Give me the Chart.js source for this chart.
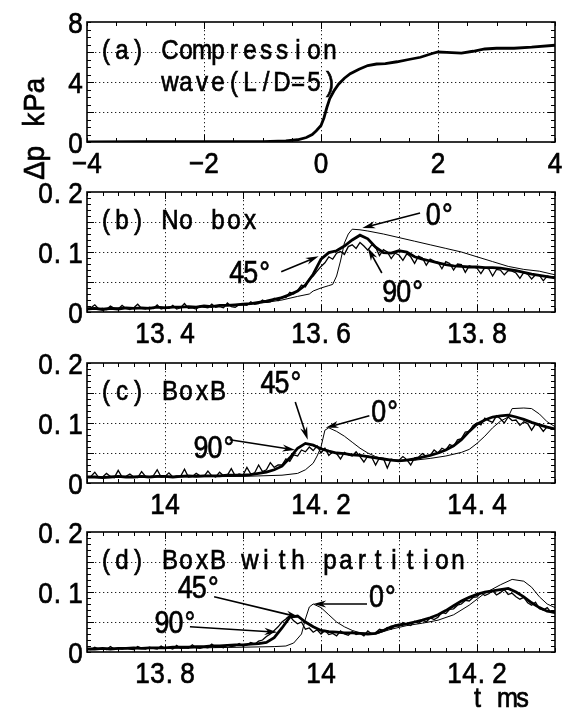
<!DOCTYPE html>
<html>
<head>
<meta charset="utf-8">
<script src="https://cdn.jsdelivr.net/npm/chart.js@4.4.0/dist/chart.umd.min.js"></script>
<style>
  html, body { margin: 0; padding: 0; background: #fff; }
  #wrap { position: relative; width: 564px; height: 710px; }
  #wrap canvas { position: absolute; left: 0; top: 0; }
</style>
</head>
<body>
<div id="wrap">
  <canvas id="pa" width="564" height="710"></canvas>
  <canvas id="pb" width="564" height="710"></canvas>
  <canvas id="pc" width="564" height="710"></canvas>
  <canvas id="pd" width="564" height="710"></canvas>
</div>
<script>
// (a) compression wave, t ms / dp kPa
const WAVE_T  = [-4, -3, -2, -1, -0.6, -0.4, -0.25, -0.15, -0.08, 0, 0.05, 0.1, 0.15, 0.22, 0.3, 0.4, 0.5, 0.65, 0.8, 0.95, 1.1, 1.3, 1.5, 1.7, 1.9, 2.0, 2.15, 2.4, 2.6, 2.8, 3.0, 3.3, 3.6, 4.0];
const WAVE_DP = [0, 0.02, 0.02, 0.03, 0.07, 0.15, 0.3, 0.5, 0.75, 1.1, 1.6, 2.3, 2.9, 3.4, 3.85, 4.25, 4.55, 4.85, 5.1, 5.2, 5.22, 5.35, 5.5, 5.65, 5.9, 6.0, 5.97, 5.92, 6.05, 6.2, 6.25, 6.25, 6.32, 6.45];

// (b) no box
const B_DEG0_T = [13.30, 13.40, 13.45, 13.50, 13.53, 13.55, 13.57, 13.585, 13.59, 13.60, 13.61, 13.615, 13.62, 13.625, 13.63, 13.635, 13.64, 13.65, 13.66, 13.68, 13.70, 13.72, 13.74, 13.76, 13.78, 13.80, 13.82, 13.84, 13.86, 13.88, 13.90];
const B_DEG0_P = [0.006, 0.008, 0.009, 0.012, 0.016, 0.020, 0.026, 0.030, 0.035, 0.040, 0.044, 0.046, 0.060, 0.085, 0.115, 0.130, 0.138, 0.137, 0.135, 0.130, 0.124, 0.118, 0.112, 0.106, 0.100, 0.092, 0.084, 0.076, 0.071, 0.068, 0.062];
// sampled every 0.01 ms from 13.30
const B_DEG45_P = [0.005, 0.006, 0.004, 0.006, 0.005, 0.007, 0.006, 0.007, 0.006, 0.008,
  0.007, 0.008, 0.008, 0.009, 0.008, 0.010, 0.009, 0.011, 0.011, 0.012,
  0.013, 0.014, 0.016, 0.018, 0.021, 0.024, 0.029, 0.035, 0.045, 0.063,
  0.088, 0.099, 0.102, 0.110, 0.120, 0.128, 0.122, 0.108, 0.099, 0.098,
  0.102, 0.100, 0.092, 0.088, 0.085, 0.082, 0.079, 0.077, 0.076, 0.075,
  0.075, 0.074, 0.074, 0.073, 0.071, 0.069, 0.066, 0.063, 0.061, 0.059, 0.057];
// sampled every 0.005 ms from 13.30
const B_DEG90_P = [0.006, 0.007, 0.012, 0.005, 0.006, 0.004, 0.010, 0.006, 0.005, 0.011,
  0.006, 0.004, 0.007, 0.013, 0.006, 0.005, 0.008, 0.006, 0.012, 0.005,
  0.007, 0.006, 0.011, 0.005, 0.007, 0.014, 0.006, 0.007, 0.005, 0.010,
  0.008, 0.007, 0.013, 0.008, 0.009, 0.007, 0.015, 0.009, 0.008, 0.012,
  0.012, 0.011, 0.017, 0.013, 0.014, 0.020, 0.016, 0.017, 0.023, 0.019,
  0.025, 0.024, 0.033, 0.030, 0.036, 0.045, 0.042, 0.055, 0.060, 0.068,
  0.076, 0.082, 0.092, 0.088, 0.098, 0.101, 0.096, 0.109, 0.112, 0.106,
  0.116, 0.110, 0.103, 0.112, 0.108, 0.094, 0.104, 0.100, 0.089, 0.098,
  0.095, 0.086, 0.097, 0.092, 0.081, 0.093, 0.090, 0.078, 0.088, 0.085,
  0.083, 0.072, 0.084, 0.081, 0.070, 0.080, 0.079, 0.066, 0.077, 0.075,
  0.073, 0.064, 0.074, 0.072, 0.060, 0.071, 0.070, 0.062, 0.069, 0.068,
  0.065, 0.056, 0.066, 0.063, 0.055, 0.062, 0.061, 0.052, 0.060, 0.058, 0.057];

// (c) BoxB
const C_DEG0_T = [13.90, 14.00, 14.10, 14.15, 14.17, 14.18, 14.19, 14.195, 14.20, 14.205, 14.21, 14.22, 14.23, 14.24, 14.25, 14.26, 14.27, 14.28, 14.30, 14.32, 14.34, 14.36, 14.38, 14.39, 14.40, 14.41, 14.42, 14.43, 14.44, 14.445, 14.46, 14.47, 14.48, 14.49, 14.50];
const C_DEG0_P = [0.010, 0.010, 0.011, 0.013, 0.016, 0.022, 0.033, 0.045, 0.060, 0.088, 0.092, 0.086, 0.078, 0.068, 0.058, 0.050, 0.044, 0.040, 0.037, 0.038, 0.041, 0.045, 0.051, 0.056, 0.066, 0.078, 0.092, 0.103, 0.110, 0.124, 0.125, 0.124, 0.115, 0.102, 0.094];
const C_DEG45_P = [0.010, 0.010, 0.009, 0.010, 0.011, 0.010, 0.010, 0.011, 0.010, 0.011,
  0.011, 0.010, 0.011, 0.012, 0.011, 0.012, 0.012, 0.012, 0.013, 0.013,
  0.013, 0.014, 0.016, 0.018, 0.022, 0.028, 0.042, 0.058, 0.066, 0.063,
  0.057, 0.053, 0.050, 0.049, 0.047, 0.046, 0.044, 0.042, 0.040, 0.038,
  0.037, 0.038, 0.040, 0.043, 0.046, 0.050, 0.055, 0.062, 0.072, 0.086,
  0.098, 0.105, 0.110, 0.112, 0.113, 0.110, 0.106, 0.101, 0.097, 0.093, 0.090];
const C_DEG90_P = [0.010, 0.011, 0.018, 0.009, 0.010, 0.016, 0.011, 0.009, 0.021, 0.010,
  0.011, 0.015, 0.010, 0.009, 0.019, 0.011, 0.010, 0.012, 0.022, 0.010,
  0.011, 0.017, 0.010, 0.012, 0.011, 0.023, 0.010, 0.011, 0.016, 0.012,
  0.011, 0.020, 0.012, 0.010, 0.018, 0.012, 0.013, 0.024, 0.012, 0.015,
  0.013, 0.026, 0.015, 0.017, 0.030, 0.019, 0.022, 0.034, 0.026, 0.030,
  0.030, 0.040, 0.036, 0.047, 0.045, 0.055, 0.052, 0.060, 0.054, 0.062,
  0.050, 0.058, 0.046, 0.052, 0.049, 0.040, 0.051, 0.047, 0.045, 0.052,
  0.044, 0.035, 0.045, 0.043, 0.030, 0.042, 0.041, 0.025, 0.040, 0.038,
  0.038, 0.044, 0.039, 0.030, 0.042, 0.043, 0.049, 0.044, 0.046, 0.055,
  0.050, 0.058, 0.055, 0.064, 0.061, 0.072, 0.074, 0.085, 0.086, 0.096,
  0.100, 0.097, 0.108, 0.104, 0.101, 0.112, 0.107, 0.100, 0.110, 0.104,
  0.105, 0.096, 0.102, 0.099, 0.088, 0.098, 0.095, 0.086, 0.094, 0.090, 0.090];

// (d) BoxB with partition
const D_DEG0_T = [13.70, 13.80, 13.90, 13.94, 13.955, 13.965, 13.975, 13.98, 13.985, 13.99, 14.00, 14.01, 14.02, 14.03, 14.04, 14.05, 14.07, 14.09, 14.11, 14.13, 14.15, 14.17, 14.19, 14.21, 14.23, 14.245, 14.26, 14.27, 14.28, 14.29, 14.30];
const D_DEG0_P = [0.005, 0.006, 0.008, 0.009, 0.010, 0.015, 0.030, 0.055, 0.075, 0.080, 0.074, 0.062, 0.050, 0.042, 0.036, 0.032, 0.030, 0.038, 0.044, 0.048, 0.053, 0.062, 0.078, 0.098, 0.112, 0.121, 0.118, 0.108, 0.092, 0.080, 0.074];
const D_DEG45_P = [0.005, 0.005, 0.006, 0.005, 0.006, 0.006, 0.007, 0.006, 0.007, 0.007,
  0.007, 0.008, 0.008, 0.008, 0.009, 0.009, 0.010, 0.010, 0.011, 0.012,
  0.012, 0.013, 0.014, 0.016, 0.024, 0.040, 0.058, 0.060, 0.050, 0.042,
  0.036, 0.034, 0.033, 0.032, 0.032, 0.031, 0.030, 0.031, 0.036, 0.042,
  0.045, 0.047, 0.050, 0.053, 0.057, 0.062, 0.069, 0.077, 0.085, 0.091,
  0.096, 0.100, 0.102, 0.104, 0.106, 0.100, 0.092, 0.082, 0.074, 0.068, 0.066];
const D_DEG90_P = [0.005, 0.004, 0.008, 0.005, 0.006, 0.004, 0.009, 0.005, 0.006, 0.005,
  0.007, 0.005, 0.004, 0.009, 0.006, 0.005, 0.008, 0.006, 0.005, 0.010,
  0.006, 0.007, 0.005, 0.011, 0.006, 0.007, 0.006, 0.012, 0.007, 0.006,
  0.008, 0.007, 0.013, 0.008, 0.009, 0.007, 0.012, 0.009, 0.010, 0.014,
  0.010, 0.012, 0.016, 0.013, 0.018, 0.020, 0.026, 0.030, 0.036, 0.042,
  0.050, 0.055, 0.060, 0.052, 0.047, 0.050, 0.038, 0.040, 0.033, 0.037,
  0.030, 0.036, 0.029, 0.031, 0.027, 0.035, 0.030, 0.028, 0.034, 0.029,
  0.031, 0.027, 0.035, 0.030, 0.032, 0.038, 0.036, 0.041, 0.038, 0.045,
  0.043, 0.049, 0.046, 0.044, 0.051, 0.048, 0.053, 0.050, 0.057, 0.054,
  0.058, 0.066, 0.064, 0.071, 0.072, 0.078, 0.080, 0.086, 0.085, 0.091,
  0.092, 0.099, 0.094, 0.097, 0.102, 0.095, 0.099, 0.104, 0.096, 0.098,
  0.092, 0.088, 0.091, 0.082, 0.078, 0.083, 0.072, 0.070, 0.074, 0.066, 0.065];

// tick labels
const A_XTICKS = [-4, -2, 0, 2, 4];
const A_YTICKS = [0, 4, 8];
const P_YTICKS = [0, 0.1, 0.2];
const B_XTICKS = [13.4, 13.6, 13.8];
const C_XTICKS = [14, 14.2, 14.4];
const D_XTICKS = [13.8, 14, 14.2];

// arrow notes: label anchor (tx, ty) and arrow tail -> tip, all in data units
const B_NOTES = [
  { text: '0°',  tx: 13.735, ty: 0.145, x0: 13.727, y0: 0.165, x1: 13.653, y1: 0.140 },
  { text: '45°', tx: 13.483, ty: 0.048, x0: 13.549, y0: 0.067, x1: 13.597, y1: 0.093 },
  { text: '90°', tx: 13.679, ty: 0.017, x0: 13.678, y0: 0.065, x1: 13.660, y1: 0.107 }
];
const C_NOTES = [
  { text: '45°', tx: 14.123, ty: 0.150, x0: 14.167, y0: 0.135, x1: 14.183, y1: 0.072 },
  { text: '0°',  tx: 14.265, ty: 0.102, x0: 14.262, y0: 0.112, x1: 14.206, y1: 0.092 },
  { text: '90°', tx: 14.037, ty: 0.042, x0: 14.083, y0: 0.072, x1: 14.167, y1: 0.055 }
];
const D_NOTES = [
  { text: '45°', tx: 13.817, ty: 0.090, x0: 13.863, y0: 0.092, x1: 13.972, y1: 0.058 },
  { text: '0°',  tx: 14.062, ty: 0.075, x0: 14.059, y0: 0.080, x1: 13.990, y1: 0.080 },
  { text: '90°', tx: 13.787, ty: 0.032, x0: 13.832, y0: 0.042, x1: 13.944, y1: 0.033 }
];

const FONT = '"Liberation Sans", Arial, sans-serif';
const LEFT = 87, RIGHT = 555, W = 564, H = 710;

function pairs(ts, vs) {
  return ts.map((t, i) => ({ x: t, y: vs[i] }));
}
function sampled(t0, dt, vs) {
  return vs.map((v, i) => ({ x: +(t0 + i * dt).toFixed(4), y: v }));
}

// half-width cell text, glyphs squeezed horizontally
function cellText(ctx, str, x, y, opt) {
  const cell = opt.cell, n = str.length;
  let left = x;
  if (opt.align === 'center') left = x - n * cell / 2;
  else if (opt.align === 'right') left = x - n * cell;
  ctx.font = opt.size + 'px ' + FONT;
  ctx.textAlign = 'center';
  ctx.textBaseline = 'alphabetic';
  ctx.fillStyle = '#000';
  ctx.strokeStyle = '#000';
  ctx.lineWidth = 0.7;
  for (let i = 0; i < n; i++) {
    const ch = str[i];
    if (ch === ' ') continue;
    let cx = left + cell * (i + 0.5);
    if (ch === '.') cx = left + cell * (i + 0.3);
    ctx.save();
    ctx.translate(cx, y);
    ctx.scale(opt.sx, 1);
    ctx.fillText(ch, 0, 0);
    ctx.strokeText(ch, 0, 0);
    ctx.restore();
  }
}

const TICK_FONT = { size: 29, sx: 0.9, cell: 15 };
const TITLE_FONT = { size: 28, sx: 0.86, cell: 16 };
const NOTE_FONT = { size: 32, sx: 0.84, cell: 14 };

function fmt(v) {
  return String(v).replace('-', '\u2212');
}

function steps(min, max, step) {
  const n = Math.round((max - min) / step);
  const out = [];
  for (let i = 0; i <= n; i++) out.push(min + i * step);
  return out;
}

function arrow(ctx, x0, y0, x1, y1) {
  const a = Math.atan2(y1 - y0, x1 - x0);
  const len = 13, hw = 3.6;
  ctx.save();
  ctx.strokeStyle = '#000';
  ctx.fillStyle = '#000';
  ctx.lineWidth = 1.6;
  ctx.setLineDash([]);
  ctx.beginPath();
  ctx.moveTo(x0, y0);
  ctx.lineTo(x1 - Math.cos(a) * len * 0.6, y1 - Math.sin(a) * len * 0.6);
  ctx.stroke();
  ctx.beginPath();
  ctx.moveTo(x1, y1);
  ctx.lineTo(x1 - Math.cos(a) * len - Math.sin(a) * hw, y1 - Math.sin(a) * len + Math.cos(a) * hw);
  ctx.lineTo(x1 - Math.cos(a) * len * 0.7, y1 - Math.sin(a) * len * 0.7);
  ctx.lineTo(x1 - Math.cos(a) * len + Math.sin(a) * hw, y1 - Math.sin(a) * len - Math.cos(a) * hw);
  ctx.closePath();
  ctx.fill();
  ctx.restore();
}

const framePlugin = {
  id: 'frame',
  beforeDatasetsDraw(chart) {
    const p = chart.options.plugins.frame;
    const { ctx, chartArea: ca, scales: { x, y } } = chart;
    ctx.save();
    ctx.strokeStyle = '#222';
    ctx.lineWidth = 1;
    ctx.setLineDash([1.3, 2.7]);
    ctx.beginPath();
    p.xGrid.forEach(v => {
      const px = Math.round(x.getPixelForValue(v)) + 0.5;
      ctx.moveTo(px, ca.top); ctx.lineTo(px, ca.bottom);
    });
    p.yGrid.forEach(v => {
      const py = Math.round(y.getPixelForValue(v)) + 0.5;
      ctx.moveTo(ca.left, py); ctx.lineTo(ca.right, py);
    });
    ctx.stroke();
    ctx.restore();
  },
  afterDatasetsDraw(chart) {
    const p = chart.options.plugins.frame;
    const { ctx, chartArea: ca, scales: { x, y } } = chart;
    ctx.save();
    ctx.strokeStyle = '#000';
    ctx.lineWidth = 1;
    ctx.setLineDash([]);
    // inward ticks on all four sides
    ctx.beginPath();
    const isMajor = (v, list) => list.some(g => Math.abs(g - v) < 1e-6);
    steps(p.xRange[0], p.xRange[1], p.xMinor).forEach(v => {
      const px = Math.round(x.getPixelForValue(v)) + 0.5;
      const len = isMajor(v, p.xGrid) ? 7 : 4;
      ctx.moveTo(px, ca.bottom); ctx.lineTo(px, ca.bottom - len);
      ctx.moveTo(px, ca.top); ctx.lineTo(px, ca.top + len);
    });
    steps(p.yRange[0], p.yRange[1], p.yMinor).forEach(v => {
      const py = Math.round(y.getPixelForValue(v)) + 0.5;
      const len = isMajor(v, p.yGrid) ? 7 : 4;
      ctx.moveTo(ca.left, py); ctx.lineTo(ca.left + len, py);
      ctx.moveTo(ca.right, py); ctx.lineTo(ca.right - len, py);
    });
    ctx.stroke();
    // frame
    ctx.lineWidth = 1.6;
    ctx.strokeRect(ca.left, ca.top, ca.right - ca.left, ca.bottom - ca.top);
    ctx.restore();

    // tick labels
    p.xTicks.forEach(v => {
      cellText(ctx, fmt(v), x.getPixelForValue(v), ca.bottom + 31, Object.assign({ align: 'center' }, TICK_FONT));
    });
    p.yTicks.forEach(v => {
      cellText(ctx, fmt(v), LEFT - 4, y.getPixelForValue(v) + 10.5, Object.assign({ align: 'right' }, TICK_FONT));
    });

    // panel title
    p.title.forEach((line, i) => {
      cellText(ctx, line, 98, ca.top + 37 + i * 32, Object.assign({ align: 'left' }, TITLE_FONT));
    });

    // angle notes with arrows
    p.notes.forEach(n => {
      arrow(ctx, x.getPixelForValue(n.x0), y.getPixelForValue(n.y0), x.getPixelForValue(n.x1), y.getPixelForValue(n.y1));
      cellText(ctx, n.text, x.getPixelForValue(n.tx), y.getPixelForValue(n.ty), Object.assign({ align: 'left' }, NOTE_FONT));
    });

    if (p.yTitle) {
      ctx.save();
      ctx.translate(34, 128);
      ctx.rotate(-Math.PI / 2);
      cellText(ctx, p.yTitle, 0, 10, { align: 'center', size: 29, sx: 0.95, cell: 17 });
      ctx.restore();
    }
    if (p.xTitle) {
      cellText(ctx, p.xTitle, 500, 707, { align: 'center', size: 28, sx: 0.9, cell: 15 });
    }
  }
};

function makePanel(id, top, bottom, cfg, datasets) {
  new Chart(document.getElementById(id), {
    type: 'line',
    data: { datasets },
    plugins: [framePlugin],
    options: {
      responsive: false,
      animation: false,
      events: [],
      layout: { padding: { left: LEFT, right: W - RIGHT, top: top, bottom: H - bottom } },
      elements: { point: { radius: 0 }, line: { tension: 0, borderColor: '#000' } },
      scales: {
        x: { type: 'linear', min: cfg.xRange[0], max: cfg.xRange[1], display: false },
        y: { type: 'linear', min: cfg.yRange[0], max: cfg.yRange[1], display: false }
      },
      plugins: {
        legend: { display: false },
        tooltip: { enabled: false },
        frame: cfg
      }
    }
  });
}

function angleSets(deg45, deg90, deg0) {
  return [
    { data: deg45, borderColor: '#000', borderWidth: 2.8 },
    { data: deg90, borderColor: '#000', borderWidth: 1.3 },
    { data: deg0, borderColor: '#000', borderWidth: 1 }
  ];
}

const PANEL_GRID = { yRange: [0, 0.2], yGrid: [0.05, 0.1, 0.15], yMinor: 0.01, yTicks: P_YTICKS, xMinor: 0.02 };

makePanel('pa', 22, 142, {
  xRange: [-4, 4], yRange: [0, 8], xGrid: [-2, 0, 2], yGrid: [2, 4, 6], xMinor: 0.5, yMinor: 0.5,
  xTicks: A_XTICKS, yTicks: A_YTICKS, title: ['(a) Compression', '    wave(L/D=5)'], notes: [],
  yTitle: '\u0394p kPa'
}, [{ data: pairs(WAVE_T, WAVE_DP), borderColor: '#000', borderWidth: 2.8 }]);

makePanel('pb', 192, 312, Object.assign({
  xRange: [13.3, 13.9], xGrid: [13.4, 13.5, 13.6, 13.7, 13.8], xTicks: B_XTICKS,
  title: ['(b) No box'], notes: B_NOTES
}, PANEL_GRID), angleSets(sampled(13.3, 0.01, B_DEG45_P), sampled(13.3, 0.005, B_DEG90_P), pairs(B_DEG0_T, B_DEG0_P)));

makePanel('pc', 363, 483, Object.assign({
  xRange: [13.9, 14.5], xGrid: [14.0, 14.1, 14.2, 14.3, 14.4], xTicks: C_XTICKS,
  title: ['(c) BoxB'], notes: C_NOTES
}, PANEL_GRID), angleSets(sampled(13.9, 0.01, C_DEG45_P), sampled(13.9, 0.005, C_DEG90_P), pairs(C_DEG0_T, C_DEG0_P)));

makePanel('pd', 532, 652, Object.assign({
  xRange: [13.7, 14.3], xGrid: [13.8, 13.9, 14.0, 14.1, 14.2], xTicks: D_XTICKS,
  title: ['(d) BoxB with partition'], notes: D_NOTES, xTitle: 't ms'
}, PANEL_GRID), angleSets(sampled(13.7, 0.01, D_DEG45_P), sampled(13.7, 0.005, D_DEG90_P), pairs(D_DEG0_T, D_DEG0_P)));
</script>
</body>
</html>
